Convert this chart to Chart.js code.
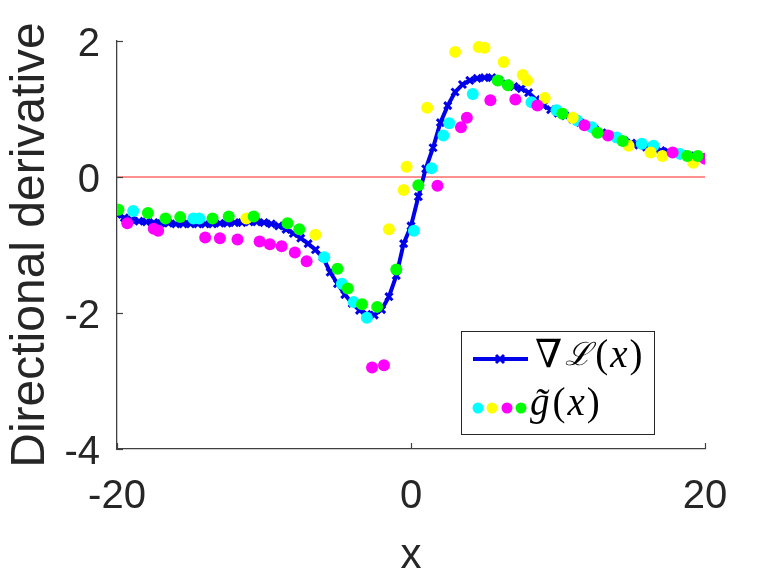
<!DOCTYPE html>
<html><head><meta charset="utf-8">
<script src="https://cdn.jsdelivr.net/npm/chart.js@4"></script>
<style>html,body{margin:0;padding:0;background:#fff}#wrap{width:779px;height:583px}</style>
</head><body><div id="wrap"><canvas id="c" width="779" height="583"></canvas></div>
<script>
// ----- data -----
const gradX = [-20,-19.5,-19,-18.5,-18,-17.5,-17,-16.5,-16,-15.5,-15,-14.5,-14,-13.5,-13,-12.5,-12,-11.5,-11,-10.5,
  -10,-9.5,-9,-8.5,-8,-7.5,-7,-6.5,-6,-5.5,-5,-4.5,-4,-3.5,-3,-2.5,-2,-1.5,-1,-0.5,
  0,0.5,1,1.5,2,2.5,3,3.5,4,4.5,5,5.5,6,6.5,7,7.5,8,8.5,9,9.5,
  10,10.5,11,11.5,12,12.5,13,13.5,14,14.5,15,15.5,16,16.5,17,17.5,18,18.5,19,19.5,20];
const gradY = [-0.55,-0.60,-0.63,-0.65,-0.66,-0.67,-0.68,-0.68,-0.69,-0.69,-0.69,-0.69,-0.69,-0.69,-0.68,-0.68,-0.67,-0.67,-0.66,-0.66,
  -0.67,-0.69,-0.72,-0.77,-0.83,-0.90,-0.98,-1.07,-1.18,-1.40,-1.57,-1.73,-1.86,-1.96,-2.02,-2.03,-1.95,-1.76,-1.45,-0.98,
  -0.72,-0.29,0.12,0.43,0.80,1.05,1.25,1.36,1.42,1.45,1.46,1.46,1.42,1.37,1.33,1.30,1.24,1.14,1.05,0.99,
  0.94,0.90,0.85,0.80,0.75,0.70,0.65,0.61,0.57,0.53,0.50,0.47,0.44,0.42,0.39,0.37,0.35,0.33,0.31,0.29,0.28];

const cyanX = [-18.9,-14.8,-14.4,-5.9,-4.7,-3.9,-3.0,0.2,1.4,2.2,2.6,4.2,8.2,9.9,11.3,12.3,14.0,15.7,16.5,18.3];
const cyanY = [-0.50,-0.61,-0.61,-1.18,-1.57,-1.84,-2.07,-0.79,0.13,0.61,0.79,1.22,1.10,0.98,0.83,0.73,0.58,0.49,0.46,0.34];

const yellowX = [-11.2,-6.5,-1.5,-0.5,-0.3,1.1,3.0,4.6,5.0,6.3,7.6,7.9,9.1,11.0,14.8,16.3,17.1,19.2];
const yellowY = [-0.61,-0.85,-0.77,-0.19,0.15,1.02,1.84,1.91,1.90,1.69,1.50,1.42,1.16,0.87,0.46,0.36,0.31,0.21];

const magentaX = [-19.3,-17.5,-17.2,-14.0,-13.0,-11.8,-10.3,-9.6,-8.8,-7.9,-7.1,-2.65,-1.84,1.8,3.4,3.8,5.4,7.1,8.6,11.8,13.4,17.8,20.0];
const magentaY = [-0.68,-0.76,-0.79,-0.89,-0.90,-0.92,-0.95,-0.99,-1.02,-1.11,-1.24,-2.80,-2.77,-0.13,0.73,0.87,1.13,1.14,1.05,0.76,0.61,0.36,0.27];

const greenX = [-19.9,-17.9,-16.7,-15.7,-13.5,-12.4,-10.7,-8.4,-7.6,-5.0,-4.3,-3.33,-2.3,-1.0,0.5,5.9,6.6,10.3,12.7,14.4,18.8,19.5];
const greenY = [-0.48,-0.53,-0.61,-0.59,-0.61,-0.58,-0.58,-0.68,-0.77,-1.35,-1.64,-1.87,-1.91,-1.36,-0.12,1.42,1.35,0.93,0.65,0.53,0.31,0.31];

const zeroX = [-20, 20];
const zeroY = [0, 0];

const xTicks = [-20, 0, 20];
const yTicks = [-4, -2, 0, 2];
const xLabel = 'x';
const yLabel = 'Directional derivative';
const legendLabels = ['∇ℒ(x)', 'g̃(x)'];

// ----- helpers -----
const pts = (xs, ys) => xs.map((x, i) => ({x, y: ys[i]}));
const BLUE = 'rgb(0,0,235)';
const dotColors = ['#00ffff', '#ffff00', '#ff00ff', '#00ff00'];

function dotSet(label, xs, ys, color, order) {
  return {label, data: pts(xs, ys), showLine: false, pointStyle: 'circle', pointRadius: 6,
    pointBackgroundColor: color, pointBorderColor: color, pointBorderWidth: 0, order};
}

const legendPlugin = {
  id: 'matlabLegend',
  afterDraw(chart) {
    const ctx = chart.ctx;
    const xs = chart.scales.x, ys = chart.scales.y;
    // inward ticks
    ctx.save();
    ctx.strokeStyle = '#404040';
    ctx.lineWidth = 1.2;
    const ca = chart.chartArea;
    xTicks.forEach(v => {
      const px = Math.round(xs.getPixelForValue(v)) + 0.5;
      ctx.beginPath(); ctx.moveTo(px, ca.bottom); ctx.lineTo(px, ca.bottom - 6); ctx.stroke();
    });
    yTicks.forEach(v => {
      const py = Math.round(ys.getPixelForValue(v)) + 0.5;
      ctx.beginPath(); ctx.moveTo(ca.left, py); ctx.lineTo(ca.left + 6, py); ctx.stroke();
    });
    // legend box
    const bx = 461.5, by = 331.5, bw = 193, bh = 103;
    ctx.fillStyle = '#fff';
    ctx.fillRect(bx, by, bw, bh);
    ctx.strokeStyle = '#262626';
    ctx.lineWidth = 1;
    ctx.strokeRect(bx, by, bw, bh);
    // entry 1
    ctx.strokeStyle = BLUE; ctx.lineWidth = 4;
    ctx.beginPath(); ctx.moveTo(473, 359); ctx.lineTo(528, 359); ctx.stroke();
    ctx.lineWidth = 3;
    ctx.beginPath();
    ctx.moveTo(496, 355); ctx.lineTo(504, 363); ctx.moveTo(504, 355); ctx.lineTo(496, 363);
    ctx.stroke();
    // entry 2 markers
    const sq = [478, 492, 507, 521];
    sq.forEach((cx, i) => {
      ctx.fillStyle = dotColors[i];
      ctx.beginPath();
      ctx.arc(cx, 408, 5.5, 0, Math.PI * 2);
      ctx.fill();
    });
    // texts
    ctx.fillStyle = '#000';
    ctx.textBaseline = 'middle';
    ctx.textAlign = 'left';
    const up = "39px 'Liberation Serif','DejaVu Serif',serif";
    const it = "italic 39px 'Liberation Serif','DejaVu Serif',serif";
    const sc = "italic 32px 'DejaVu Serif',serif";
    function drawSegs(segs, x, y) {
      segs.forEach(s => {
        ctx.font = s[1] === 2 ? sc : (s[1] ? it : up);
        ctx.fillText(s[0], x, y);
        x += ctx.measureText(s[0]).width + (s[2] || 0);
      });
    }
    const l1 = legendLabels[0];
    drawSegs([[l1.slice(0, 1), false, 3], [l1.slice(1, 2), 2, 3], ['(', false, 2], ['x', true, 2], [')', false]], 535, 357);
    const l2 = legendLabels[1];
    drawSegs([[l2.slice(0, 2), true, 3], ['(', false, 2], ['x', true, 2], [')', false]], 530, 405);
    ctx.restore();
  }
};

new Chart(document.getElementById('c'), {
  type: 'scatter',
  data: {
    datasets: [
      {label: 'zero', data: pts(zeroX, zeroY), showLine: true, borderColor: '#ff2020', borderWidth: 1,
        pointRadius: 0, order: 20},
      {label: legendLabels[0], data: pts(gradX, gradY), showLine: true, borderColor: BLUE, borderWidth: 4,
        pointStyle: 'crossRot', pointRadius: 5, pointBorderColor: BLUE, pointBorderWidth: 3,
        pointBackgroundColor: BLUE, tension: 0, order: 10},
      dotSet('cyan', cyanX, cyanY, dotColors[0], 4),
      dotSet('yellow', yellowX, yellowY, dotColors[1], 3),
      dotSet('magenta', magentaX, magentaY, dotColors[2], 2),
      dotSet('green', greenX, greenY, dotColors[3], 1)
    ]
  },
  options: {
    responsive: false,
    animation: false,
    devicePixelRatio: 1,
    layout: {padding: {top: 41, right: 74, left: 0, bottom: 0}},
    plugins: {legend: {display: false}, tooltip: {enabled: false}},
    scales: {
      x: {
        type: 'linear', min: -20, max: 20,
        afterBuildTicks: s => { s.ticks = xTicks.map(v => ({value: v})); },
        afterFit: s => { s.height = 134; },
        grid: {display: false, drawTicks: false},
        border: {display: true, color: '#404040', width: 1.3},
        ticks: {font: {family: "'Liberation Sans', Arial", size: 40}, color: '#262626', padding: 24,
          callback: v => String(v)},
        title: {display: true, text: xLabel, font: {family: "'Liberation Sans', Arial", size: 42, lineHeight: 1.2},
          color: '#262626', padding: {top: 0, bottom: 1}}
      },
      y: {
        type: 'linear', min: -4, max: 2,
        afterBuildTicks: s => { s.ticks = yTicks.map(v => ({value: v})); },
        afterFit: s => { s.width = 117; },
        grid: {display: false, drawTicks: false},
        border: {display: true, color: '#404040', width: 1.3},
        ticks: {font: {family: "'Liberation Sans', Arial", size: 40}, color: '#262626', padding: 17,
          labelOffset: 4, callback: v => String(v)},
        title: {display: true, text: yLabel, font: {family: "'Liberation Sans', Arial", size: 48, lineHeight: 1.2},
          color: '#262626', padding: {top: 2, bottom: 0}}
      }
    }
  },
  plugins: [legendPlugin]
});
</script>
</body></html>
